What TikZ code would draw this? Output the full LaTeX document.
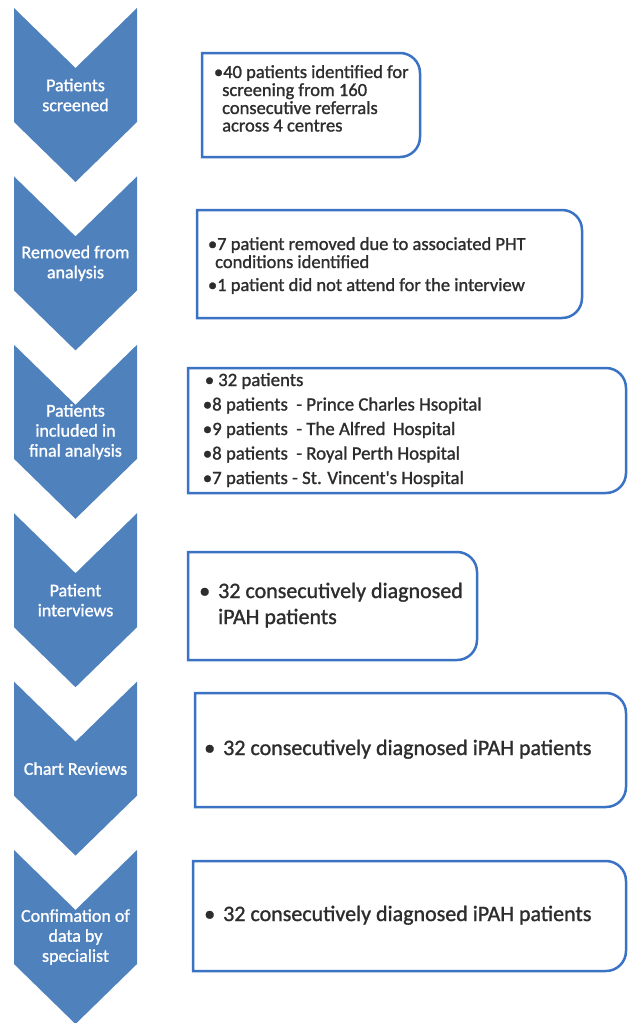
\documentclass[tikz,border=0pt]{standalone}
\usepackage{fontspec}
\setmainfont{Carlito}
\newfontfamily\thickfont{Carlito}[FakeBold=1.2]
\definecolor{chevblue}{RGB}{79,129,189}
\definecolor{boxline}{RGB}{59,115,196}
\definecolor{txtgray}{RGB}{45,45,45}
\tikzset{
  chevfill/.style={fill=chevblue},
  chevtext/.style={align=center, text=white, inner sep=0pt, font=\thickfont\fontsize{18}{20}\selectfont},
  boxstyle/.style={draw=boxline, line width=2.5pt, fill=white},
  btext/.style={anchor=base west, inner sep=0pt, text=txtgray},
  fsmall/.style={font=\thickfont\fontsize{18.5}{20}\selectfont},
  fmid/.style={font=\thickfont\fontsize{18.8}{20}\selectfont},
  fbig/.style={font=\thickfont\fontsize{22}{26}\selectfont}
}
\newcommand\chevron[3]{%
  \fill[chevfill] (14,-#2) -- (75.5,{-#2-60}) -- (137,-#2) -- (137,{-#2-114}) -- (75.5,{-#2-174}) -- (14,{-#2-114}) -- cycle;
  \node[chevtext] (#1) at (75.5,{-#2-87}) {#3};}
\newcommand\infobox[4]{%
  \draw[boxstyle] (#1,-#2) -- ({#3-20},-#2) arc[start angle=90,end angle=0,radius=20] -- (#3,{-#4+20}) arc[start angle=0,end angle=-90,radius=20] -- (#1,-#4) -- cycle;}
\newcommand\bul[1]{\llap{•\hspace{#1}}}
\begin{document}
\begin{tikzpicture}[x=1pt,y=1pt]
\useasboundingbox (0,0) rectangle (628,-1023);
% chevrons
\chevron{c1}{8}{Patients\\screened}
\chevron{c2}{176.4}{Removed from\\analysis}
\chevron{c3}{344.8}{Patients\\included in\\final analysis}
\chevron{c4}{513.2}{Patient\\interviews}
\chevron{c5}{681.6}{Chart Reviews}
\chevron{c6}{850}{Confimation of\\data by\\specialist}
% box 1
\infobox{202}{53}{420}{157}
\node[btext,fsmall] (t1a) at (223,-78) {\bul{0pt}40 patients identified for};
\node[btext,fsmall] (t1b) at (222,-96) {screening from 160};
\node[btext,fsmall] (t1c) at (222,-114) {consecutive referrals};
\node[btext,fsmall] (t1d) at (222,-131.5) {across 4 centres};
% box 2
\infobox{197}{210}{582}{318}
\node[btext,fsmall] (t2a) at (217,-250) {\bul{0pt}7 patient removed due to associated PHT};
\node[btext,fsmall] (t2b) at (215,-268) {conditions identified};
\node[btext,fsmall] (t2c) at (217,-291) {\bul{0pt}1 patient did not attend for the interview};
% box 3
\infobox{188}{368}{626}{493}
\node[btext,fmid] (t3a) at (218,-386) {\bul{4pt}32 patients};
\node[btext,fmid] (t3b) at (212,-410.5) {\bul{0pt}8 patients \ - Prince Charles Hsopital};
\node[btext,fmid] (t3c) at (212,-435) {\bul{0pt}9 patients \ - The Alfred \,Hospital};
\node[btext,fmid] (t3d) at (212,-459.5) {\bul{0pt}8 patients \ - Royal Perth Hospital};
\node[btext,fmid] (t3e) at (212,-484) {\bul{0pt}7 patients - St. Vincent's Hospital};
% box 4
\infobox{188}{552}{477}{660}
\node[btext,fbig] (t4a) at (218,-598) {\bul{8pt}32 consecutively diagnosed};
\node[btext,fbig] (t4b) at (218,-624) {iPAH patients};
% box 5
\infobox{195}{693}{626}{807}
\node[btext,fbig] (t5a) at (223,-755) {\bul{8pt}32 consecutively diagnosed iPAH patients};
% box 6
\infobox{193}{861}{626}{971}
\node[btext,fbig] (t6a) at (223,-921) {\bul{8pt}32 consecutively diagnosed iPAH patients};
\end{tikzpicture}
\end{document}
